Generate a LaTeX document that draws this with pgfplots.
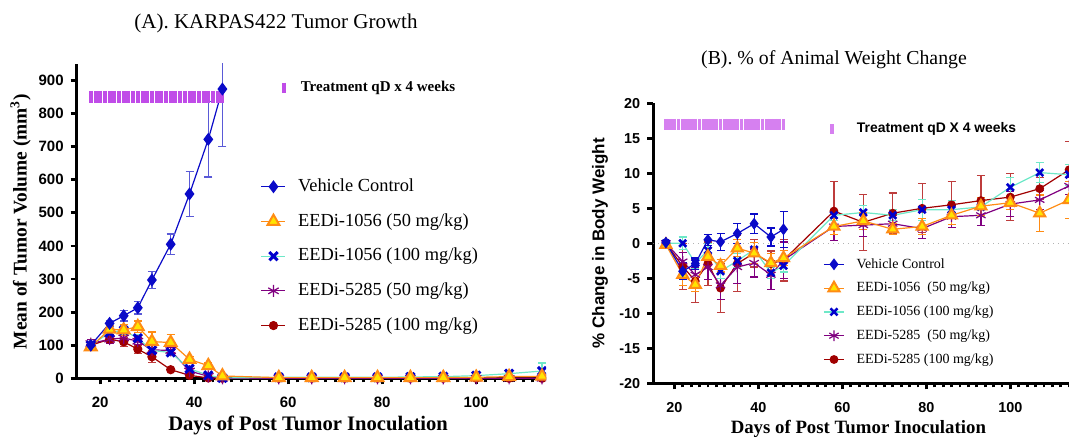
\documentclass[border=0pt]{standalone}
\usepackage{fontspec}
\setmainfont{Liberation Serif}
\setsansfont{Liberation Sans}
\usepackage{pgfplots}
\usepackage{pgfplotstable}
\pgfplotsset{compat=1.18}

\definecolor{vblue}{RGB}{10,10,200}
\definecolor{vblueerr}{RGB}{90,90,215}
\definecolor{orng}{RGB}{255,140,20}
\definecolor{yel}{RGB}{255,228,0}
\definecolor{aqua}{RGB}{110,232,200}
\definecolor{xblue}{RGB}{0,0,205}
\definecolor{purp}{RGB}{128,0,128}
\definecolor{dred}{RGB}{160,0,0}
\definecolor{dreder}{RGB}{190,60,60}
\definecolor{treatA}{RGB}{192,76,232}
\definecolor{treatB}{RGB}{214,128,240}

% ---------- (A) tumour volume ----------
\pgfplotstableread{
x y e
18 100 4
22 166 9
25 189 16
28 213 19
31 297 26
35 405 31
39 557 69
43 722 114
46 874 173
}\Aveh
\pgfplotstableread{
x y e
18 95 5
22 148 10
25 146 16
28 156 17
31 111 29
35 108 25
39 57 9
43 38 8
46 7 3
58 2 1
65 2 1
72 2 1
79 2 1
86 2 1
93 2 1
100 3 1
107 5 2
114 6 3
}\Aoa
\pgfplotstableread{
x y e
18 100 5
22 138 10
25 145 12
28 121 12
31 84 10
35 78 8
39 29 6
43 9 4
46 1 2
58 3 1
65 3 1
72 3 1
79 3 1
86 4 1
93 5 2
100 8 3
107 14 5
114 22 24
}\Aob
\pgfplotstableread{
x y e
18 105 12
22 118 14
25 122 12
28 112 10
31 86 8
35 84 8
39 22 8
43 6 4
46 0 4
58 0 1
65 0 1
72 0 1
79 0 1
86 0 1
93 0 1
100 0 1
107 0 1
114 0 1
}\Afa
\pgfplotstableread{
x y e
18 100 5
22 118 10
25 110 14
28 88 12
31 65 18
35 26 4
39 9 3
43 1 2
46 0 1
58 0 0.5
65 0 0.5
72 0 0.5
79 0 0.5
86 0 0.5
93 0 0.5
100 0 0.5
107 0 0.5
114 0 0.5
}\Afb

% ---------- (B) body weight ----------
\pgfplotstableread{
x y e
18 0.1 0.3
22 -4.0 1.2
25 -2.9 0.8
28 0.5 0.8
31 0.2 1.2
35 1.4 1.4
39 2.8 1.4
43 0.9 1.3
46 2.0 2.6
}\Bveh
\pgfplotstableread{
x y e
18 -0.2 0.5
22 -4.5 1.5
25 -5.9 1.0
28 -1.9 1.2
31 -3.2 0.9
35 -0.7 1.2
39 -1.4 1.5
43 -2.8 1.4
46 -2.1 1.1
58 2.4 1.2
65 3.2 1.2
72 2.0 0.8
79 2.4 1.2
86 4.0 1.3
93 5.3 1.3
100 5.8 1.0
107 4.3 2.6
114 6.2 2.6
}\Boa
\pgfplotstableread{
x y e
18 0 0.3
22 0 0.9
25 -2.8 0.8
28 -1.0 1.0
31 -4.0 1.0
35 -2.5 1.0
39 -0.9 1.0
43 -4.2 0.8
46 -3.2 0.9
58 4.0 0.7
65 4.4 1.0
72 4.0 0.8
79 4.8 1.5
86 4.8 1.3
93 5.2 1.4
100 8.0 1.4
107 10.1 1.4
114 9.8 1.5
}\Bob
\pgfplotstableread{
x y e
18 0 0.3
22 -2.6 1.3
25 -4.5 1.0
28 -3.4 1.8
31 -6.0 2.0
35 -3.4 2.4
39 -2.8 2.0
43 -4.5 2.1
46 -2.4 2.6
58 2.4 2.0
65 2.6 1.6
72 2.8 1.2
79 2.1 1.4
86 3.8 1.6
93 4.0 1.4
100 5.6 1.8
107 6.2 1.4
114 8.2 1.2
}\Bfa
\pgfplotstableread{
x y e
18 0 0.3
22 -3.3 3.3
25 -5.4 3.1
28 -2.9 3.1
31 -6.4 3.5
35 -2.9 4.0
39 -1.4 2.0
43 -2.9 1.8
46 -2.4 3.0
58 4.6 4.2
65 3.0 4.0
72 4.3 2.9
79 5.0 3.5
86 5.5 3.3
93 6.1 3.6
100 6.6 3.4
107 7.8 1.6
114 10.5 4.1
}\Bfb
\pgfplotstableread{
x y
18 0
19 0
20 0
21 0
22 0
23 0
24 0
25 0
26 0
27 0
28 0
29 0
30 0
31 0
32 0
33 0
34 0
35 0
36 0
37 0
38 0
39 0
40 0
41 0
42 0
43 0
44 0
45 0
46 0
}\Days

\pgfplotsset{
  gp/.style={
    scale only axis,
    axis x line*=bottom, axis y line*=left,
    axis line style={line width=1.6pt,-},
    tick align=outside,
    major tick length=3pt, minor tick length=2pt,
    tick style={line width=1.4pt, black},
    minor x tick num=9,
    /pgf/number format/assume math mode=true,
    legend cell align=left,
    reverse legend,
  },
  errs/.style={error bars/.cd, y dir=both, y explicit,
     error bar style={line width=0.6pt, color=#1},
     error mark options={rotate=90, mark size=2pt, line width=0.6pt, color=#1}},
}

\begin{document}
\begin{tikzpicture}
\useasboundingbox (0,0) rectangle (534.5pt,219pt);
\clip (0,0) rectangle (534.5pt,219pt);

\node[font=\fontsize{10.5}{12}\selectfont] at (138pt,207.3pt) {(A). KARPAS422 Tumor Growth};
\node[font=\fontsize{9.9}{12}\selectfont] at (417pt,189pt) {(B). \% of Animal Weight Change};

\begin{scope}
\clip (0,0) rectangle (273pt,200pt);
\begin{axis}[gp,
  at={(38.35pt,29.85pt)}, anchor=south west,
  width=242.05pt, height=157.2pt,
  xmin=15, xmax=118, ymin=0, ymax=950,
  xtick={20,40,...,120}, ytick={0,100,...,900},
  ticklabel style={font=\sffamily\bfseries\fontsize{7.5}{9}\selectfont},
  xticklabel style={yshift=-3pt},
  xlabel={\textbf{Days of Post Tumor Inoculation}},
  xlabel style={font=\fontsize{10.3}{12}\selectfont, at={(axis description cs:0.478,-0.1487)}, anchor=center},
  ylabel={\textbf{Mean of Tumor Volume (mm\textsuperscript{3})}},
  ylabel style={font=\fontsize{9.7}{12}\selectfont, at={(axis description cs:-0.1157,0.499)}, anchor=center},
  legend style={draw=none, fill=none, inner sep=0pt, at={(axis cs:54.1,612)}, anchor=north west,
     font=\fontsize{9.2}{11}\selectfont, row sep=6.75pt, column sep=5pt,
     nodes={inner sep=1pt, text height=6.6pt, text depth=2pt}},
  legend image code/.code={\draw[mark repeat=2,mark phase=2,#1] plot coordinates {(0pt,0pt) (6pt,0pt) (12pt,0pt)};},
]
\addplot[forget plot, only marks, mark=|, mark size=3pt, mark options={line width=2pt, color=treatA}] table[x=x, y expr=850] {\Days};
\addplot[forget plot, only marks, mark=|, mark size=2.7pt, mark options={line width=2pt, color=treatA}] coordinates {(59.1,877)};
\node[anchor=west, inner sep=0pt, font=\bfseries\fontsize{7.5}{9}\selectfont] at (axis cs:62.6,876) {Treatment qD x 4 weeks};

\addplot[color=dred, line width=0.6pt, mark=*, mark size=2pt, mark options={fill=dred, draw=dred}, errs=dreder]
  table[x=x, y=y, y error=e] {\Afb};
\addlegendentry{EEDi-5285 (100 mg/kg)}
\addplot[color=purp, line width=0.6pt, mark=asterisk, mark size=3pt, mark options={line width=0.6pt}, errs=purp]
  table[x=x, y=y, y error=e] {\Afa};
\addlegendentry{EEDi-5285 (50 mg/kg)}
\addplot[color=aqua, line width=0.6pt, mark=x, mark size=2.9pt, mark options={color=xblue, line width=1.5pt}, errs=aqua]
  table[x=x, y=y, y error=e] {\Aob};
\addlegendentry{EEDi-1056 (100 mg/kg)}
\addplot[color=orng, line width=0.6pt, mark=triangle*, mark size=3.4pt, mark options={fill=yel, draw=orng, line width=1pt}, errs=orng]
  table[x=x, y=y, y error=e] {\Aoa};
\addlegendentry{EEDi-1056 (50 mg/kg)}
\addplot[color=vblue, line width=0.6pt, mark=diamond*, mark size=2.8pt, mark options={fill=vblue, draw=vblue}, errs=vblueerr]
  table[x=x, y=y, y error=e] {\Aveh};
\addlegendentry{Vehicle Control}
\end{axis}
\end{scope}

\begin{axis}[gp,
  at={(326.65pt,27.35pt)}, anchor=south west,
  width=216.3pt, height=140pt,
  xmin=15, xmax=118, ymin=-20, ymax=20,
  xtick={20,40,...,120}, ytick={-20,-15,...,20},
  ticklabel style={font=\sffamily\bfseries\fontsize{7.2}{9}\selectfont},
  xticklabel style={yshift=-3pt},
  xlabel={\textbf{Days of Post Tumor Inoculation}},
  xlabel style={font=\fontsize{9.4}{12}\selectfont, at={(axis description cs:0.474,-0.163)}, anchor=center},
  ylabel={\sffamily\bfseries \% Change in Body Weight},
  ylabel style={font=\fontsize{8.5}{10}\selectfont, at={(axis description cs:-0.1232,0.5)}, anchor=center},
  legend style={draw=none, fill=none, inner sep=0pt, at={(axis cs:55.4,-1.7)}, anchor=north west,
     font=\fontsize{7}{8.5}\selectfont, row sep=3.2pt, column sep=5pt,
     nodes={inner sep=1pt, text height=5.2pt, text depth=1.5pt}},
  legend image code/.code={\draw[mark repeat=2,mark phase=2,#1] plot coordinates {(0pt,0pt) (5pt,0pt) (10pt,0pt)};},
]
\addplot[forget plot, gray!60, dotted, line width=0.5pt] coordinates {(15,0) (118,0)};
\addplot[forget plot, only marks, mark=|, mark size=2.7pt, mark options={line width=1.95pt, color=treatB}] table[x=x, y expr=17] {\Days};
\addplot[forget plot, only marks, mark=|, mark size=2.6pt, mark options={line width=2pt, color=treatB}] coordinates {(57.5,16.3)};
\node[anchor=west, inner sep=0pt, font=\sffamily\bfseries\fontsize{6.95}{8}\selectfont] at (axis cs:63.4,16.3) {Treatment qD X 4 weeks};

\addplot[color=dred, line width=0.6pt, mark=*, mark size=1.9pt, mark options={fill=dred, draw=dred}, errs=dreder]
  table[x=x, y=y, y error=e] {\Bfb};
\addlegendentry{EEDi-5285 (100 mg/kg)}
\addplot[color=purp, line width=0.6pt, mark=asterisk, mark size=2.7pt, mark options={line width=0.6pt}, errs=purp]
  table[x=x, y=y, y error=e] {\Bfa};
\addlegendentry{EEDi-5285\ \ (50 mg/kg)}
\addplot[color=aqua, line width=0.6pt, mark=x, mark size=2.5pt, mark options={color=xblue, line width=1.3pt}, errs=aqua]
  table[x=x, y=y, y error=e] {\Bob};
\addlegendentry{EEDi-1056 (100 mg/kg)}
\addplot[color=orng, line width=0.6pt, mark=triangle*, mark size=3.2pt, mark options={fill=yel, draw=orng, line width=1pt}, errs=orng]
  table[x=x, y=y, y error=e] {\Boa};
\addlegendentry{EEDi-1056\ \ (50 mg/kg)}
\addplot[color=vblue, line width=0.6pt, mark=diamond*, mark size=2.5pt, mark options={fill=vblue, draw=vblue}, errs=vblue]
  table[x=x, y=y, y error=e] {\Bveh};
\addlegendentry{Vehicle Control}
\end{axis}
\end{tikzpicture}
\end{document}
